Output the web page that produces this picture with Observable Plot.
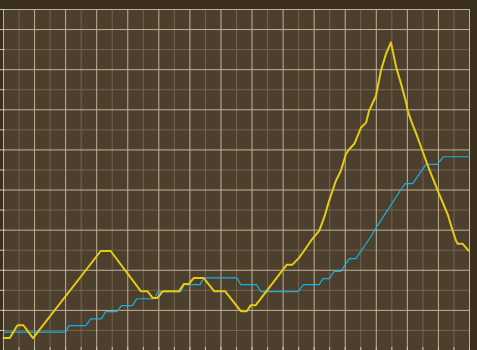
<!DOCTYPE html>
<html>
<head>
<meta charset="utf-8">
<script src="https://cdn.jsdelivr.net/npm/d3@7"></script>
<script src="https://cdn.jsdelivr.net/npm/@observablehq/plot@0.6"></script>
<style>
  html, body { margin: 0; padding: 0; background: #3a2e1c; overflow: hidden; }
  #chart svg { display: block; }
</style>
</head>
<body>
<div id="chart"></div>
<script>
// Series values
const yellowX = [0, 2.0, 4.5, 6.4, 9.5, 31.3, 34.5, 44.2, 46.3, 48.0, 49.6, 51.3, 56.5, 58.1, 59.7, 61.3, 64.4, 67.8, 71.3, 76.4, 78.3, 79.6, 81.2, 91.2, 93.0, 95.1, 96.7, 98.9, 101.6, 103.2, 104.8, 107.0, 108.6, 110.2, 111.2, 113.0, 115.1, 116.7, 117.7, 119.9, 121.5, 123.1, 124.7, 126.4, 128.0, 129.6, 130.1, 131.2, 133.3, 136.6, 139.8, 143.0, 144.6, 145.7, 146.2, 147.8, 149.7];
const yellowY = [3.1, 3.1, 6.3, 6.3, 3.1, 24.8, 24.8, 14.8, 14.8, 13.1, 13.1, 14.8, 14.8, 16.6, 16.6, 18.1, 18.1, 14.8, 14.8, 9.8, 9.8, 11.3, 11.3, 21.4, 21.4, 23.1, 24.8, 27.3, 29.8, 33.1, 37.3, 42.3, 44.8, 48.9, 50.1, 51.6, 55.6, 56.8, 59.8, 63.5, 69.8, 73.9, 76.8, 70.6, 66.4, 61.8, 59.8, 57.3, 53.1, 46.0, 39.8, 33.9, 29.8, 27.3, 26.6, 26.6, 24.9];

const cyanX = [0, 20.0, 21.1, 26.5, 28.1, 31.5, 32.9, 36.5, 38.0, 41.5, 42.9, 48.5, 49.8, 57.1, 58.1, 63.3, 64.4, 75.1, 76.4, 81.5, 82.8, 94.8, 96.6, 101.6, 102.8, 104.9, 106.4, 108.6, 111.3, 113.4, 118.2, 119.6, 128.0, 129.3, 131.7, 136.0, 139.6, 141.7, 150.0];
const cyanY = [4.6, 4.6, 6.2, 6.2, 7.9, 7.9, 9.7, 9.7, 11.2, 11.2, 12.9, 12.9, 14.7, 14.7, 16.4, 16.4, 18.1, 18.1, 16.4, 16.4, 14.7, 14.7, 16.4, 16.4, 17.9, 17.9, 19.7, 19.7, 22.9, 22.9, 28.3, 30.2, 40.2, 41.6, 41.6, 46.4, 46.4, 48.3, 48.3];

// Tick values
const majorXTicks = d3.range(0, 151, 10);
const minorXTicks = d3.range(5, 150, 10);
const allXTicks = d3.range(0, 151, 5);
const majorYTicks = d3.range(10, 81, 10);
const minorYTicks = d3.range(5, 81, 10);
const topY = [85];
const allYTicks = d3.range(0, 86, 5);

const yellow = yellowX.map((x, i) => ({x, y: yellowY[i]}));
const cyan = cyanX.map((x, i) => ({x, y: cyanY[i]}));

const plotBg = "#4c3f2e";
const majorGrid = "#c1b296";
const minorGrid = "#73654e";
const tickColor = "#d6cab0";

const chart = Plot.plot({
  width: 477,
  height: 350,
  marginLeft: 3,
  marginRight: 8,
  marginTop: 9,
  marginBottom: 0,
  style: {background: "transparent", overflow: "visible"},
  x: {domain: [0, 150], axis: null},
  y: {domain: [0, 85], axis: null},
  marks: [
    Plot.frame({fill: plotBg, stroke: null}),
    Plot.gridX(minorXTicks, {stroke: minorGrid, strokeOpacity: 1}),
    Plot.gridY(minorYTicks, {stroke: minorGrid, strokeOpacity: 1}),
    Plot.gridX(majorXTicks, {stroke: majorGrid, strokeOpacity: 1}),
    Plot.gridY(majorYTicks, {stroke: majorGrid, strokeOpacity: 1}),
    Plot.gridY(topY, {stroke: majorGrid, strokeOpacity: 1}),
    Plot.ruleY(allYTicks, {x1: -1, x2: 0.5, stroke: tickColor}),
    Plot.ruleX(allXTicks, {y1: 0, y2: 0.75, stroke: tickColor}),
    Plot.line(cyan, {x: "x", y: "y", stroke: "#16b2e6", strokeWidth: 1.2, curve: "linear"}),
    Plot.line(yellow, {x: "x", y: "y", stroke: "#e6cb10", strokeWidth: 2, curve: "linear"})
  ]
});
document.getElementById("chart").append(chart);
</script>
</body>
</html>
